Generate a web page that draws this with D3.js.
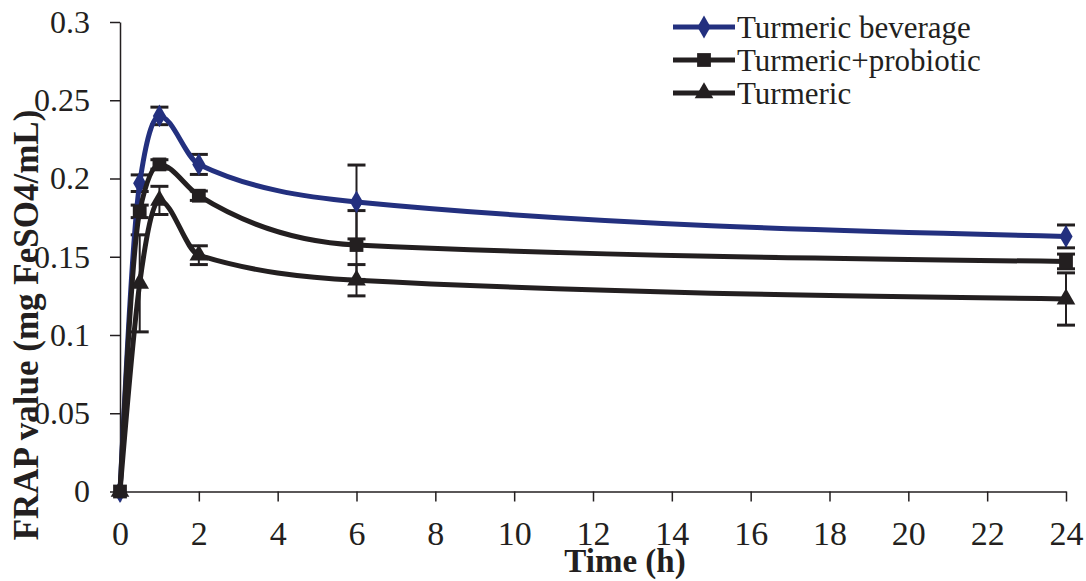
<!DOCTYPE html>
<html>
<head>
<meta charset="utf-8">
<script src="https://cdn.jsdelivr.net/npm/d3@7"></script>
<style>
  body { margin: 0; background: #fff; }
  svg { display: block; font-family: "Liberation Serif", "Times New Roman", serif; }
</style>
</head>
<body>
<script>
// time points (h)
const time = [0, 0.5, 1, 2, 6, 24];

// FRAP values (mg FeSO4/mL) and error bars
const beverage = [0, 0.197, 0.240, 0.209, 0.185, 0.163];
const beverageErr = [0, 0.0053, 0.0056, 0.0064, 0.0236, 0.0073];
const probiotic = [0, 0.179, 0.209, 0.189, 0.1575, 0.147];
const probioticErr = [0, 0.004, 0.003, 0.003, 0.022, 0.0047];
const turmeric = [0, 0.133, 0.186, 0.151, 0.135, 0.123];
const turmericErr = [0, 0.031, 0.009, 0.006, 0.010, 0.0167];

const seriesNames = ["Turmeric beverage", "Turmeric+probiotic", "Turmeric"];
const xTicks = [0, 2, 4, 6, 8, 10, 12, 14, 16, 18, 20, 22, 24];
const yTicks = [0, 0.05, 0.1, 0.15, 0.2, 0.25, 0.3];

const width = 1086, height = 581;
const navy = "#23307f", ink = "#231f20";

const series = [
  { name: seriesNames[0], values: beverage, err: beverageErr, color: navy, shape: d3.symbolDiamond },
  { name: seriesNames[1], values: probiotic, err: probioticErr, color: ink, shape: d3.symbolSquare },
  { name: seriesNames[2], values: turmeric, err: turmericErr, color: ink, shape: d3.symbolTriangle }
];

const svg = d3.select("body").append("svg")
  .attr("width", width)
  .attr("height", height);

const x = d3.scaleLinear().domain([0, 24]).range([120, 1066]);
const y = d3.scaleLinear().domain([0, 0.3]).range([491.5, 22]);

// axes
const xAxis = svg.append("g")
  .attr("transform", `translate(0,${y(0)})`)
  .call(d3.axisBottom(x).tickValues(xTicks).tickSize(10).tickSizeOuter(0).tickPadding(19).tickFormat(d3.format("d")));
xAxis.selectAll("text").attr("font-size", 34).attr("fill", ink).attr("font-family", "Liberation Serif");

const yAxis = svg.append("g")
  .attr("transform", `translate(${x(0)},0)`)
  .call(d3.axisLeft(y).tickValues(yTicks).tickSize(10).tickSizeOuter(0).tickPadding(20).tickFormat(d => d === 0 ? "0" : String(+d.toFixed(2))));
yAxis.selectAll("text").attr("font-size", 32).attr("fill", ink).attr("font-family", "Liberation Serif");

svg.selectAll(".domain, .tick line").attr("stroke", ink).attr("stroke-width", 1.5);

// error bars
series.forEach(s => {
  const g = svg.append("g");
  time.forEach((t, i) => {
    if (!s.err[i]) return;
    const cx = x(t), y1 = y(s.values[i] + s.err[i]), y2 = y(s.values[i] - s.err[i]);
    g.append("line").attr("x1", cx).attr("x2", cx).attr("y1", y1).attr("y2", y2)
      .attr("stroke", ink).attr("stroke-width", 2);
    [y1, y2].forEach(yy => g.append("line")
      .attr("x1", cx - 9).attr("x2", cx + 9).attr("y1", yy).attr("y2", yy)
      .attr("stroke", ink).attr("stroke-width", 3));
  });
});

// smoothed lines + markers
const line = d3.line()
  .x((d, i) => x(time[i]))
  .y(d => y(d))
  .curve(d3.curveMonotoneX);

series.forEach(s => {
  svg.append("path")
    .attr("d", line(s.values))
    .attr("fill", "none")
    .attr("stroke", s.color)
    .attr("stroke-width", 5);
  svg.append("g").selectAll("path")
    .data(s.values)
    .join("path")
    .attr("transform", (d, i) => `translate(${x(time[i])},${y(d)})`)
    .attr("d", d3.symbol().type(s.shape).size(s.shape === d3.symbolSquare ? 190 : 150))
    .attr("fill", s.color);
});

// legend
const legend = svg.append("g");
series.forEach((s, i) => {
  const ly = 27 + i * 33;
  legend.append("line")
    .attr("x1", 673).attr("x2", 735).attr("y1", ly).attr("y2", ly)
    .attr("stroke", s.color).attr("stroke-width", 5);
  legend.append("path")
    .attr("transform", `translate(704,${ly})`)
    .attr("d", d3.symbol().type(s.shape).size(s.shape === d3.symbolSquare ? 190 : 150))
    .attr("fill", s.color);
  legend.append("text")
    .attr("x", 737).attr("y", ly + 11)
    .attr("font-size", 31)
    .attr("fill", ink)
    .text(s.name);
});

// axis titles
svg.append("text")
  .attr("x", 625).attr("y", 572)
  .attr("text-anchor", "middle")
  .attr("font-size", 33).attr("font-weight", "bold")
  .attr("fill", ink)
  .text("Time (h)");

svg.append("text")
  .attr("transform", "translate(38,325) rotate(-90)")
  .attr("text-anchor", "middle")
  .attr("font-size", 35).attr("font-weight", "bold")
  .attr("fill", ink)
  .text("FRAP value (mg FeSO4/mL)");
</script>
</body>
</html>
